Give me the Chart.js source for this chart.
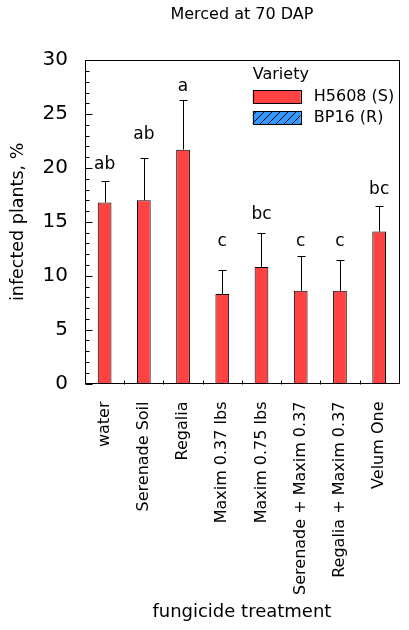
<!DOCTYPE html>
<html>
<head>
<meta charset="utf-8">
<script src="https://cdn.jsdelivr.net/npm/chart.js@4"></script>
<style>
  html, body { margin: 0; padding: 0; background: #fff; }
</style>
</head>
<body>
<canvas id="chart" width="409" height="630"></canvas>
<script>
'use strict';

// data (Merced at 70 DAP)
const treatments = ['water', 'Serenade Soil', 'Regalia', 'Maxim 0.37 lbs', 'Maxim 0.75 lbs',
  'Serenade + Maxim 0.37', 'Regalia + Maxim 0.37', 'Velum One'];
const infectedS = [16.8, 17.0, 21.7, 8.3, 10.8, 8.6, 8.6, 14.1];
const errorS = [2.0, 3.9, 4.6, 2.2, 3.2, 3.25, 2.85, 2.4];
const infectedR = [];
const groupLetters = ['ab', 'ab', 'a', 'c', 'bc', 'c', 'c', 'bc'];
const letterLevel = [19.9, 22.7, 27.1, 12.8, 15.25, 12.8, 12.8, 17.55];

let canvasElem = document.getElementById('chart');
Chart.defaults.font.family = '"DejaVu Sans", sans-serif';
Chart.defaults.color = '#000';

function hatch() {
  let c = document.createElement('canvas');
  c.width = 8;
  c.height = 8;
  let g = c.getContext('2d');
  g.fillStyle = '#3399ff';
  g.fillRect(0, 0, 8, 8);
  g.strokeStyle = '#000';
  g.lineWidth = 1;
  g.beginPath();
  g.moveTo(0, 8); g.lineTo(8, 0);
  g.moveTo(-2, 2); g.lineTo(2, -2);
  g.moveTo(6, 10); g.lineTo(10, 6);
  g.stroke();
  return g.createPattern(c, 'repeat');
}

const px = v => Math.round(v) + 0.5;

// frame, inside ticks, error bars, letters and the legend
const extras = {
  id: 'extras',
  afterDatasetsDraw(chart) {
    const ctx = chart.ctx, a = chart.chartArea;
    const x = chart.scales.x, y = chart.scales.y;
    ctx.save();
    ctx.strokeStyle = '#000';
    ctx.lineWidth = 1;

    chart.getDatasetMeta(0).data.forEach((bar, i) => {
      const top = px(y.getPixelForValue(infectedS[i] + errorS[i]));
      const bx = px(bar.x);
      ctx.beginPath();
      ctx.moveTo(bx, bar.y);
      ctx.lineTo(bx, top);
      ctx.moveTo(bx - 4, top);
      ctx.lineTo(bx + 4, top);
      ctx.stroke();
      ctx.font = '17px "DejaVu Sans"';
      ctx.fillStyle = '#000';
      ctx.textAlign = 'center';
      ctx.textBaseline = 'alphabetic';
      ctx.fillText(groupLetters[i], bar.x, y.getPixelForValue(letterLevel[i]));
    });

    ctx.beginPath();
    for (let v = 0; v <= 30; v++) {
      const ty = px(y.getPixelForValue(v));
      ctx.moveTo(px(a.left), ty);
      ctx.lineTo(px(a.left) + (v % 5 === 0 ? 7 : 4), ty);
    }
    for (let i = 1; i < treatments.length; i++) {
      const tx = px((x.getPixelForValue(i - 1) + x.getPixelForValue(i)) / 2);
      ctx.moveTo(tx, px(a.bottom));
      ctx.lineTo(tx, px(a.bottom) - 4);
    }
    ctx.stroke();
    ctx.strokeRect(px(a.left), px(a.top), Math.round(a.right - a.left), Math.round(a.bottom - a.top));

    // legend
    const lx = a.right - 146, ly = a.top;
    ctx.font = '16px "DejaVu Sans"';
    ctx.textAlign = 'left';
    ctx.textBaseline = 'middle';
    ctx.fillStyle = '#000';
    ctx.fillText('Variety', lx, ly + 15);
    chart.data.datasets.forEach((ds, i) => {
      const sy = ly + 30 + i * 21;
      ctx.fillStyle = ds.backgroundColor;
      ctx.fillRect(lx, sy, 48, 13);
      ctx.strokeRect(px(lx), px(sy), 48, 13);
      ctx.fillStyle = '#000';
      ctx.fillText(ds.label, lx + 61, sy + 7);
    });
    ctx.restore();
  }
};

new Chart(canvasElem, {
  type: 'bar',
  data: {
    labels: treatments,
    datasets: [{
      label: 'H5608 (S)',
      data: infectedS,
      backgroundColor: '#ff4242',
      borderColor: '#000',
      borderWidth: 1,
      barPercentage: 0.35,
      categoryPercentage: 1
    },
    {
      label: 'BP16 (R)',
      data: infectedR,
      backgroundColor: hatch(),
      borderColor: '#000',
      borderWidth: 1,
      barPercentage: 0.35,
      categoryPercentage: 1
    }]
  },
  options: {
    responsive: false,
    animation: false,
    devicePixelRatio: 1,
    grouped: false,
    layout: { padding: { left: 0, right: 5, top: 0, bottom: 3 } },
    plugins: {
      legend: { display: false },
      tooltip: { enabled: false },
      title: {
        display: true,
        fullSize: false,
        text: 'Merced at 70 DAP',
        font: { size: 16, weight: 'normal' },
        color: '#000',
        padding: { top: 5, bottom: 36 }
      }
    },
    scales: {
      x: {
        grid: { display: false },
        border: { display: false },
        ticks: { font: { size: 16 }, color: '#000', minRotation: 90, maxRotation: 90, autoSkip: false, padding: 10 },
        title: { display: true, text: 'fungicide treatment', font: { size: 18 }, color: '#000', padding: { top: 4, bottom: 4 } },
        afterFit(s) { s.height = 243.5; }
      },
      y: {
        min: 0,
        max: 30,
        grid: { display: false },
        border: { display: false },
        ticks: { stepSize: 5, font: { size: 20 }, color: '#000', padding: 9 },
        title: { display: true, text: 'infected plants, %', font: { size: 17.5 }, color: '#000', padding: { top: 8, bottom: 0 } },
        afterFit(s) { s.width = 85; }
      }
    }
  },
  plugins: [extras]
});
</script>
</body>
</html>
